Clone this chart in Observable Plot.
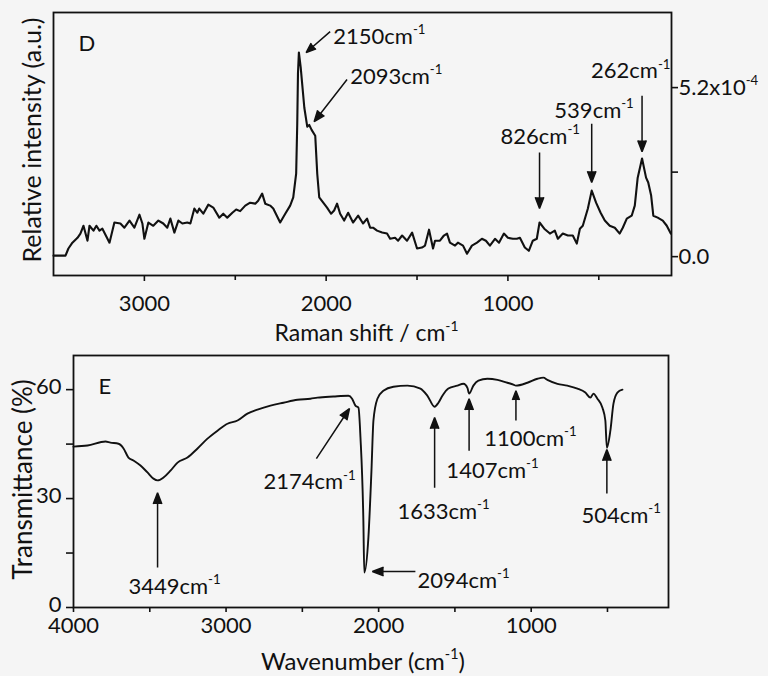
<!DOCTYPE html>
<html>
<head>
<meta charset="utf-8">
<script src="https://cdn.jsdelivr.net/npm/d3@7"></script>
<script src="https://cdn.jsdelivr.net/npm/@observablehq/plot@0.6"></script>
<style>
  html, body { margin: 0; padding: 0; background: #f5f5f5; }
  #figure { width: 768px; height: 676px; overflow: hidden; }
  #figure svg { display: block; }
</style>
</head>
<body>
<div id="figure"></div>
<script>
// ---- Panel D: Raman spectrum (intensity in units of 1e-4 a.u.) ----
const ramanShift = [
  3500,3434,3418,3396,3368,3352,3335,3313,3302,3280,
  3264,3247,3231,3203,3192,3165,3132,3110,3082,3055,
  3027,3011,3000,2978,2951,2923,2896,2874,2857,2835,
  2813,2791,2764,2747,2725,2709,2698,2676,2648,2621,
  2588,2566,2544,2516,2495,2473,2445,2418,2390,2374,
  2352,2335,2308,2291,2253,2225,2198,2181,2165,2159,
  2155,2150,2140,2120,2104,2093,2080,2060,2049,2038,
  2016,1995,1973,1956,1940,1923,1901,1879,1852,1824,
  1797,1775,1758,1742,1720,1692,1665,1648,1621,1604,
  1582,1555,1527,1500,1473,1456,1434,1412,1401,1374,
  1352,1335,1319,1291,1275,1247,1225,1198,1170,1143,
  1121,1099,1071,1049,1022,1000,973,951,934,907,
  885,863,841,826,800,769,742,725,698,670,
  643,621,604,588,560,539,515,490,467,440,
  412,385,368,346,319,302,286,262,240,228,
  212,200,176,148,126,104
];
const ramanIntensity = [
  0.03,0.03,0.25,0.43,0.58,0.71,0.95,0.49,0.95,0.80,
  0.95,0.80,0.86,0.55,0.43,1.05,1.02,0.89,1.11,0.89,
  1.29,1.02,0.55,1.05,0.95,1.11,1.02,0.89,1.17,0.74,
  1.11,1.02,1.05,1.02,1.48,1.35,1.48,1.32,1.60,1.51,
  1.20,1.32,1.20,1.35,1.45,1.40,1.57,1.66,1.63,1.72,
  1.94,1.63,1.57,1.48,1.05,1.32,1.57,1.82,2.55,4.09,
  5.63,6.28,5.82,4.58,4.00,4.05,3.90,3.72,2.55,1.82,
  1.66,1.51,1.32,1.42,1.63,1.32,1.11,1.35,1.05,1.26,
  1.02,1.17,0.89,0.89,0.80,0.74,0.71,0.55,0.58,0.49,
  0.65,0.49,0.74,0.25,0.28,0.34,0.83,0.25,0.49,0.49,
  0.65,0.71,0.43,0.34,0.43,0.34,0.09,0.34,0.43,0.55,
  0.49,0.34,0.55,0.43,0.71,0.58,0.55,0.55,0.58,0.28,
  0.18,0.49,0.55,1.05,0.86,0.71,0.80,0.55,0.71,0.65,
  0.65,0.40,0.86,0.95,1.48,2.03,1.66,1.35,1.11,0.95,
  0.89,0.71,0.89,1.17,1.26,1.57,2.43,3.02,2.43,2.28,
  1.88,1.26,1.20,1.11,0.95,0.71
];
const ramanPeaks = [2150, 2093, 826, 539, 262];
const ramanMajorTicks = [3000, 2000, 1000];
const ramanMinorTicks = [2500, 1500, 500];
const intensityTicks = [0, 2.6, 5.2];

// ---- Panel E: FTIR transmittance spectrum ----
const irWavenumber = [
  4000,3908,3790,3758,3705,3672,3640,3607,3561,3515,
  3476,3449,3410,3364,3318,3253,3187,3122,3056,2991,
  2925,2860,2794,2709,2624,2532,2447,2401,2296,2198,
  2174,2152,2132,2119,2100,2094,2067,2047,2034,2008,
  1969,1903,1811,1726,1680,1633,1608,1582,1543,1484,
  1444,1418,1407,1379,1346,1287,1221,1156,1117,1100,
  1025,959,920,894,828,763,697,645,612,592,
  566,533,514,504,481,461,435,402
];
const irTransmittance = [
  44.3,44.6,45.7,45.4,45.1,43.8,41.3,40.5,39.1,37.2,
  35.5,35.0,35.8,37.7,39.9,41.3,43.8,46.5,48.7,50.6,
  51.5,53.4,54.5,55.6,56.4,57.2,57.5,57.8,58.1,58.3,
  57.5,55.6,55.0,46.8,23.9,9.6,19.3,37.7,51.5,57.5,
  59.7,60.8,61.1,60.3,58.3,55.3,56.4,58.3,60.3,61.1,
  61.6,60.5,58.9,61.1,62.5,63.0,62.7,61.9,61.4,61.1,
  61.9,63.0,63.3,62.7,61.6,61.1,60.3,59.2,57.8,58.9,
  57.5,55.0,51.5,44.0,48.7,56.1,59.2,60.0
];
const irBands = [3449, 2174, 2094, 1633, 1407, 1100, 504];
const irMajorTicks = [4000, 3000, 2000, 1000];
const irMinorTicks = [3500, 2500, 1500, 500];
const transmittanceTicks = [0, 15, 30, 45, 60];
const transmittanceLabels = [0, 30, 60];

const ink = "#111";
const font = "Lato, 'Open Sans', sans-serif";

const raman = d3.zip(ramanShift, ramanIntensity).map(([shift, intensity]) => ({shift, intensity}));
const ir = d3.zip(irWavenumber, irTransmittance).map(([wn, t]) => ({wn, t}));
const wn = v => `${v}cm^-1`;

// Callout placement for each Raman peak: arrow tail/tip and label anchor (data units)
const ramanCallouts = [
  {label: wn(ramanPeaks[0]), x1: 1978, y1: 6.92, x2: 2110, y2: 6.28, lx: 1961, ly: 6.55, anchor: "start"},
  {label: wn(ramanPeaks[1]), x1: 1885, y1: 5.45, x2: 2066, y2: 4.15, lx: 1868, ly: 5.32, anchor: "start"},
  {label: wn(ramanPeaks[2]), x1: ramanPeaks[2], y1: 3.20, x2: ramanPeaks[2], y2: 1.48, lx: 822, ly: 3.48, anchor: "middle"},
  {label: wn(ramanPeaks[3]), x1: ramanPeaks[3], y1: 4.09, x2: ramanPeaks[3], y2: 2.28, lx: 526, ly: 4.28, anchor: "middle"},
  {label: wn(ramanPeaks[4]), x1: ramanPeaks[4], y1: 4.95, x2: ramanPeaks[4], y2: 3.23, lx: 324, ly: 5.48, anchor: "middle"}
];

// Callout placement for each IR band
const irCallouts = [
  {label: wn(irBands[0]), x1: irBands[0], y1: 11.0, x2: irBands[0], y2: 31.6, lx: 3338, ly: 3.85, anchor: "middle"},
  {label: wn(irBands[1]), x1: 2408, y1: 41.0, x2: 2191, y2: 54.8, lx: 2755, ly: 32.7, anchor: "start"},
  {label: wn(irBands[2]), x1: 1759, y1: 9.9, x2: 2041, y2: 9.9, lx: 1746, ly: 5.5, anchor: "start"},
  {label: wn(irBands[3]), x1: irBands[3], y1: 33.0, x2: irBands[3], y2: 52.3, lx: 1877, ly: 24.5, anchor: "start"},
  {label: wn(irBands[4]), x1: irBands[4], y1: 43.2, x2: irBands[4], y2: 57.5, lx: 1556, ly: 35.8, anchor: "start"},
  {label: wn(irBands[5]), x1: irBands[5], y1: 51.5, x2: irBands[5], y2: 59.7, lx: 1307, ly: 44.6, anchor: "start"},
  {label: wn(irBands[6]), x1: irBands[6], y1: 31.4, x2: irBands[6], y2: 43.5, lx: 671, ly: 23.4, anchor: "start"}
];

function calloutMarks(callouts) {
  const arrows = Plot.arrow(callouts, {
    x1: "x1", y1: "y1", x2: "x2", y2: "y2",
    stroke: ink, fill: ink, strokeWidth: 1.5,
    headLength: 12, headAngle: 42, strokeLinejoin: "miter", strokeLinecap: "butt"
  });
  const byAnchor = a => callouts.filter(d => d.anchor === a);
  const textOpts = a => ({x: "lx", y: "ly", text: "label", textAnchor: a, lineAnchor: "bottom", fontSize: 22, fill: ink});
  return [arrows, Plot.text(byAnchor("start"), textOpts("start")), Plot.text(byAnchor("middle"), textOpts("middle"))];
}

const topPanel = Plot.plot({
  width: 768, height: 348,
  marginTop: 12, marginBottom: 73, marginLeft: 53, marginRight: 97,
  style: {fontFamily: font, fontSize: "22px", color: ink, background: "transparent", overflow: "visible"},
  x: {domain: [3500, 100]},
  y: {domain: [-0.58, 7.51]},
  marks: [
    Plot.frame({stroke: ink, strokeWidth: 1.8}),
    Plot.axisX({ticks: ramanMajorTicks, tickSize: 6, tickPadding: 14, tickFormat: d => String(d), label: null, stroke: ink, strokeWidth: 1.6}),
    Plot.axisX({ticks: ramanMinorTicks, tickSize: 5, tickFormat: () => "", label: null, stroke: ink, strokeWidth: 1.6}),
    Plot.axisY({anchor: "right", ticks: intensityTicks, tickSize: 6, tickPadding: 1,
      tickFormat: d => d === 0 ? "0.0" : d === 5.2 ? "5.2x10^-4" : "", label: null, stroke: ink, strokeWidth: 1.6}),
    Plot.line(raman, {x: "shift", y: "intensity", stroke: ink, strokeWidth: 2.1, strokeLinejoin: "round"}),
    ...calloutMarks(ramanCallouts),
    Plot.text(["D"], {x: 3363, y: 6.34, textAnchor: "start", lineAnchor: "bottom", fontSize: 22, fill: ink}),
    Plot.text(["Raman shift / cm^-1"], {frameAnchor: "bottom", dx: 4, dy: 65, lineAnchor: "bottom", fontSize: 23, fill: ink}),
    Plot.text(["Relative intensity (a.u.)"], {frameAnchor: "left", dx: -21, dy: -4, rotate: -90, textAnchor: "middle", lineAnchor: "middle", fontSize: 25, fill: ink})
  ]
});

const bottomPanel = Plot.plot({
  width: 768, height: 328,
  marginTop: 7, marginBottom: 69, marginLeft: 73, marginRight: 100,
  style: {fontFamily: font, fontSize: "22px", color: ink, background: "transparent", overflow: "visible"},
  x: {domain: [4000, 100]},
  y: {domain: [0, 69.4]},
  marks: [
    Plot.frame({stroke: ink, strokeWidth: 1.8}),
    Plot.axisX({ticks: irMajorTicks, tickSize: 5, tickPadding: 5, tickFormat: d => String(d), label: null, stroke: ink, strokeWidth: 1.6}),
    Plot.axisX({ticks: irMinorTicks, tickSize: 5, tickFormat: () => "", label: null, stroke: ink, strokeWidth: 1.6}),
    // tick lines, then labels nudged slightly upward
    Plot.axisY({ticks: transmittanceTicks, tickSize: 7, tickFormat: () => "", label: null, stroke: ink, strokeWidth: 1.6}),
    Plot.axisY({ticks: transmittanceLabels, tickSize: 0, tickPadding: 12, dy: -3, tickFormat: d => String(d), label: null}),
    Plot.line(ir, {x: "wn", y: "t", stroke: ink, strokeWidth: 1.9, curve: "monotone-x", strokeLinejoin: "round"}),
    ...calloutMarks(irCallouts),
    Plot.text(["E"], {x: 3836, y: 58.9, textAnchor: "start", lineAnchor: "bottom", fontSize: 22, fill: ink}),
    Plot.text(["Wavenumber (cm^-1)"], {frameAnchor: "bottom", dx: -8, dy: 62, lineAnchor: "bottom", fontSize: 24, fill: ink}),
    Plot.text(["Transmittance (%)"], {frameAnchor: "left", dx: -50, dy: -2, rotate: -90, textAnchor: "middle", lineAnchor: "middle", fontSize: 26, fill: ink})
  ]
});

const figure = document.getElementById("figure");
figure.append(topPanel, bottomPanel);

// Render "^n" as a raised, smaller exponent
function raiseExponents(svg) {
  d3.select(svg).selectAll("text").each(function () {
    if (this.querySelector("tspan")) return;
    const s = this.textContent;
    const m = s.match(/^(.*?)\^(-?\d+)(.*)$/);
    if (!m) return;
    const size = parseFloat(getComputedStyle(this).fontSize);
    const el = d3.select(this);
    el.text(null);
    el.append("tspan").text(m[1]);
    el.append("tspan").attr("dy", -size * 0.42).attr("font-size", size * 0.6).text(m[2]);
    if (m[3]) el.append("tspan").attr("dy", size * 0.42).text(m[3]);
  });
}
raiseExponents(topPanel);
raiseExponents(bottomPanel);
</script>
</body>
</html>
